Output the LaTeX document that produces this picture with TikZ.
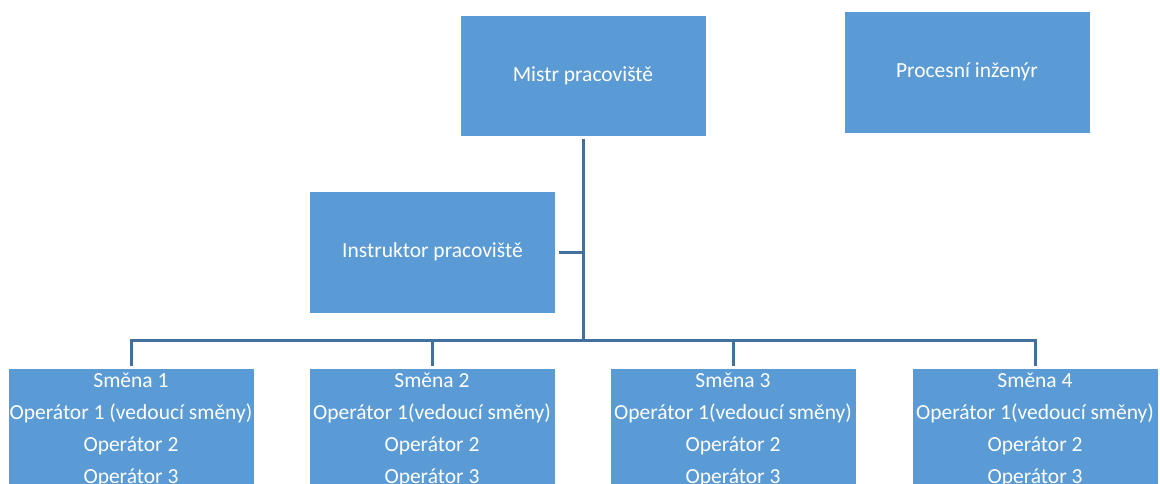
\documentclass[tikz,border=0pt]{standalone}
\usepackage{fontspec}
\setmainfont{Carlito}
\definecolor{boxblue}{RGB}{91,155,213}
\definecolor{lineblue}{RGB}{65,113,156}
\begin{document}
\begin{tikzpicture}[x=1pt,y=-1pt,
  box/.style={draw=white, line width=0.8pt, fill=boxblue, inner sep=0pt,
    minimum width=246pt},
  label/.style={text=white, font=\fontsize{21.5}{26}\selectfont, inner sep=0pt},
  link/.style={draw=lineblue, line width=3pt}]
\useasboundingbox (0,0) rectangle (1160,484);
\clip (0,0) rectangle (1160,484);

% upper level
\node[box, minimum height=121pt, label] (mistr) at (583,75.5) {Mistr pracoviště};
\node[box, minimum height=122pt, label] (proc) at (967,72) {Procesní inženýr};
\node[box, minimum height=122pt, label] (instr) at (432.5,252) {Instruktor pracoviště};

% shift boxes
\foreach \i/\x in {1/131,2/432,3/733,4/1035}
  \node[box, anchor=north, minimum height=150pt] (s\i) at (\x,368) {};

\foreach \i/\lead in {1/{Operátor 1 (vedoucí směny)},2/{Operátor 1(vedoucí směny)},
                      3/{Operátor 1(vedoucí směny)},4/{Operátor 1(vedoucí směny)}} {
  \node[label, anchor=base] (s\i a) at ([yshift=-19pt]s\i.north) {Směna \i};
  \node[label, anchor=base] (s\i b) at ([yshift=-51pt]s\i.north) {\lead};
  \node[label, anchor=base] (s\i c) at ([yshift=-83pt]s\i.north) {Operátor 2};
  \node[label, anchor=base] (s\i d) at ([yshift=-115pt]s\i.north) {Operátor 3};
}

% connectors
\coordinate (bus) at (583,340);
\draw[link] ([yshift=-3pt]mistr.south) -- (bus);
\draw[link] ([xshift=3pt]instr.east) -- (instr.east -| bus);
\draw[link, line cap=rect] (s1.north |- bus) -- (s4.north |- bus);
\foreach \i in {1,...,4}
  \draw[link] (s\i.north |- bus) -- ([yshift=2pt]s\i.north);
\end{tikzpicture}
\end{document}
